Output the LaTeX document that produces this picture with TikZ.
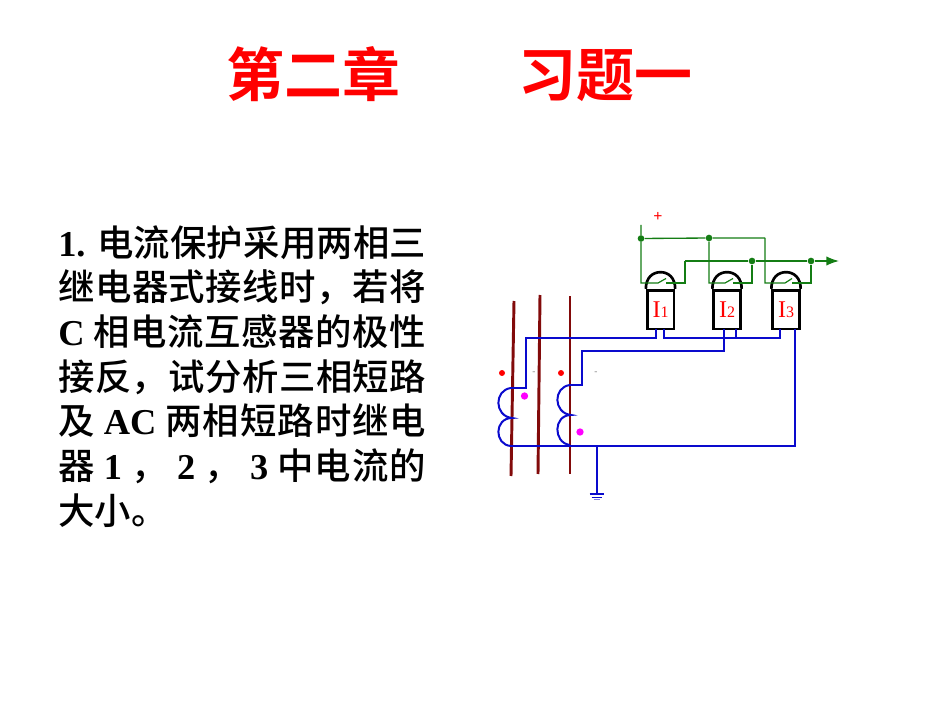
\documentclass[tikz,border=0pt]{standalone}
\usepackage{fontspec}
\usepackage{xcolor}
\usepackage{tikz}
\usetikzlibrary{arrows.meta}
\setmainfont{Liberation Serif}
\newfontfamily\zhfont{Noto Sans CJK SC Medium}
\newfontfamily\zhheavy{Noto Sans CJK SC Bold}
\newcommand{\latn}[1]{{\rmfamily\bfseries #1}}
\XeTeXlinebreaklocale "zh"
\XeTeXlinebreakskip=0pt plus 3pt
\definecolor{wiregreen}{RGB}{20,125,20}
\definecolor{wireblue}{RGB}{10,10,205}
\definecolor{corered}{RGB}{130,10,10}
\definecolor{markpink}{RGB}{255,0,255}
\tikzstyle{title} = [text=red, font=\zhheavy\fontsize{43.5}{50}\selectfont, inner sep=0pt]
\tikzstyle{question} = [text width=276pt, align=justify, inner sep=0pt, anchor=north west, font=\zhfont\fontsize{27.3}{33.5}\selectfont]
\tikzstyle{relay} = [rectangle, draw=black, line width=2pt, minimum width=20pt, minimum height=29pt, inner sep=0pt, text=red, font=\rmfamily\fontsize{18}{20}\selectfont]
\tikzstyle{dome} = [draw=black, line width=2pt]
\tikzstyle{contact} = [draw=wiregreen, line width=0.9pt]
\tikzstyle{green wire} = [draw=wiregreen, line width=1pt]
\tikzstyle{blue wire} = [draw=wireblue, line width=1.5pt]
\tikzstyle{core} = [draw=corered, line width=2.2pt]
\tikzstyle{junction} = [circle, fill=wiregreen, inner sep=0pt, minimum size=5pt]
\tikzstyle{polarity} = [circle, fill=red, inner sep=0pt, minimum size=4.5pt]
\tikzstyle{mark dot} = [circle, fill=markpink, inner sep=0pt, minimum size=5.5pt]
\tikzstyle{tick} = [text=gray, font=\rmfamily\fontsize{7}{7}\selectfont, inner sep=0pt]
\newcommand{\relaylabel}[1]{I{\fontsize{12}{12}\selectfont #1}}

\begin{document}
\begin{tikzpicture}[x=0.75pt, y=-0.75pt]
	\useasboundingbox (0,0) rectangle (950,713);
	\node (heading) [title] at (459.5,74) {第二章\hspace{88pt}习题一};
	\node (text) [question] at (58,225) {\latn{1.} 电流保护采用两相三\linebreak
		继电器式接线时，若将\linebreak
		\latn{C} 相电流互感器的极性\linebreak
		接反，试分析三相短路\linebreak
		及 \latn{AC} 两相短路时继电\linebreak
		器 \latn{1} ，\ \latn{2} ，\ \latn{3} 中电流的\linebreak
		大小。};

	% relays
	\node (relayA) [relay] at (660.5,309.5) {\relaylabel{1}};
	\node (relayB) [relay] at (727,309.5) {\relaylabel{2}};
	\node (relayC) [relay] at (786,309.5) {\relaylabel{3}};
	\foreach \r in {relayA,relayB,relayC}
		\draw [dome] (\r.north west) .. controls +(0,-11) and +(-8,0) .. ([yshift=12.5pt]\r.north) .. controls +(8,0) and +(0,-11) .. (\r.north east);

	% green contact circuit
	\node (plus) [text=red, font=\rmfamily\bfseries\fontsize{12}{12}\selectfont, inner sep=0pt] at (658,217) {+};
	\coordinate (supply) at (641,225);
	\node (jA) [junction] at (641,238.5) {};
	\node (jB) [junction] at (709,238) {};
	\node (jC) [junction] at (752,261) {};
	\node (jD) [junction] at (811,261) {};
	\coordinate (out) at (839,261);
	\coordinate (busend) at (765,238);
	\coordinate (rise) at (685,261);

	\draw [green wire] (supply) -- (jA) -- (jB) -- (busend);
	\draw [green wire] (rise) -- (jC) -- (jD);
	\draw [green wire, -{Latex[length=9.5pt,width=7pt]}] (jD) -- (out);

	\draw [contact] (jA) |- (658,283) -- (666,278.5);
	\draw [contact] (666,283) -| (rise);
	\draw [contact] (jB) |- (725,283) -- (733,278.5);
	\draw [contact] (733,283) -| (jC);
	\draw [contact] (busend) |- (785,283) -- (792,278.5);
	\draw [contact] (792,283) -| (jD);

	% current transformer cores
	\coordinate (coreAt) at (514,301);
	\coordinate (coreAb) at (511,476);
	\coordinate (coreBt) at (540,295);
	\coordinate (coreBb) at (538,474);
	\coordinate (coreCt) at (570,296);
	\coordinate (coreCb) at (570,474);
	\draw [core] (coreAt) -- (coreAb);
	\draw [core] (coreBt) -- (coreBb);
	\draw [core] (coreCt) -- (coreCb);

	% coils
	\coordinate (coilAt) at (511,388);
	\coordinate (coilAm) at (512,418);
	\coordinate (coilAb) at (511,446);
	\coordinate (coilCt) at (570,385);
	\coordinate (coilCm) at (571,415);
	\coordinate (coilCb) at (570,445);
	\draw [blue wire] (coilAt) .. controls (494,390) and (494,416) .. (coilAm) .. controls (494,418) and (494,445) .. (coilAb);
	\draw [blue wire] (coilCt) .. controls (553,387) and (553,413) .. (coilCm) .. controls (553,415) and (553,443) .. (coilCb);

	% secondary wiring
	\coordinate (leadA) at (656,329);
	\coordinate (leadAr) at (664,329);
	\coordinate (leadB) at (724,329);
	\coordinate (leadBr) at (736,329);
	\coordinate (leadC) at (780,329);
	\coordinate (leadCr) at (795,329);
	\coordinate (ground) at (596.5,494);

	\draw [blue wire] (leadA) |- (526,337.5) |- (coilAt);
	\draw [blue wire] (leadB) |- (582,351) |- (coilCt);
	\draw [blue wire] (leadAr) |- (780,337.5) -- (leadC);
	\draw [blue wire] (leadBr) -- (736,337.5);
	\draw [blue wire] (leadCr) |- (coilAb);
	\draw [blue wire] (596.5,446) -- (ground);
	\draw [blue wire] (589.5,494) -- (603.5,494);
	\draw [blue wire, line width=0.5pt] (591.5,497) -- (601.5,497);
	\draw [blue wire, line width=0.4pt, opacity=0.5] (593.5,499) -- (599.5,499);

	% polarity marks
	\node (dotA) [polarity] at (502,373) {};
	\node (dotC) [polarity] at (561,373) {};
	\node (markA) [mark dot] at (524.5,396) {};
	\node (markC) [mark dot] at (580,432) {};
	\node (tickA) [tick] at (534,373) {-};
	\node (tickC) [tick] at (596,373) {-};
\end{tikzpicture}
\end{document}
